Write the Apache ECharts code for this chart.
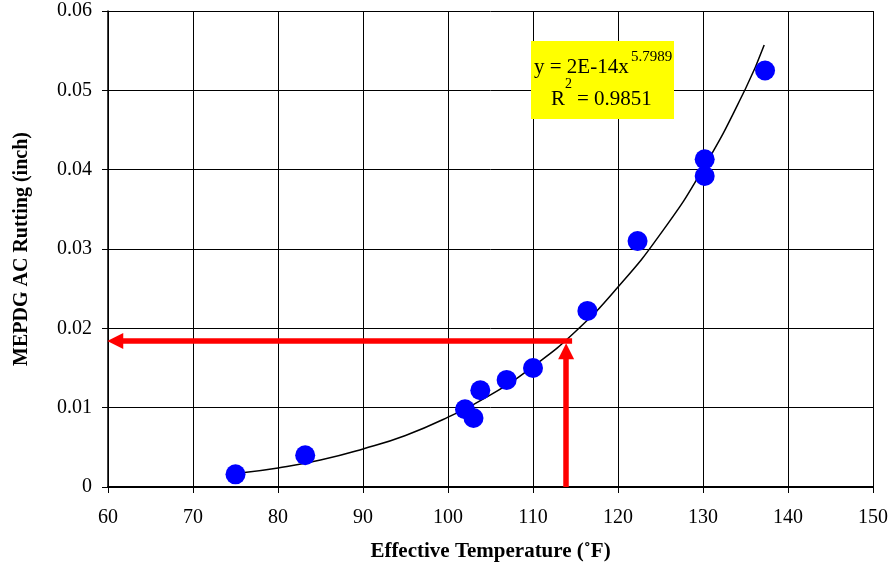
<!DOCTYPE html>
<html>
<head>
<meta charset="utf-8">
<script src="https://cdn.jsdelivr.net/npm/echarts@6/dist/echarts.min.js"></script>
<style>
html,body{margin:0;padding:0;background:#fff;}
#chart{width:891px;height:568px;}
</style>
</head>
<body>
<div id="chart"></div>
<script>
// Measured data points (Effective Temperature, MEPDG AC Rutting)
var tempF = [75.0, 83.2, 102.0, 103.0, 103.8, 106.9, 110.0, 116.4, 122.3, 130.2, 130.2, 137.3];
var rutting = [0.0016, 0.0040, 0.0098, 0.0087, 0.0122, 0.0135, 0.0150, 0.0222, 0.0310, 0.0392, 0.0413, 0.0525];

// Power trendline
var trendX = [75.8, 80, 85, 90, 95, 100, 105, 110, 115, 120, 125, 130, 135, 137.2];
var trendY = [0.0018, 0.0024, 0.0034, 0.0048, 0.0065, 0.0088, 0.0116, 0.0152, 0.0196, 0.0252, 0.0319, 0.0401, 0.0502, 0.0557];

// Red arrows: read-off of ~114 F -> ~0.0184 in
var hArrowY = 0.0184;      // horizontal arrow level
var hArrowFrom = 114.6;    // horizontal arrow tail (temperature)
var hArrowTo = 60.85;      // horizontal arrow head centre (temperature)
var vArrowX = 113.9;       // vertical arrow temperature
var vArrowTo = 0.0171;     // vertical arrow head centre (rutting)

var xTicks = [60, 70, 80, 90, 100, 110, 120, 130, 140, 150];
var yTicks = [0, 0.01, 0.02, 0.03, 0.04, 0.05, 0.06];

var eqLine1 = 'y = 2E-14x';
var eqSup1 = '5.7989';
var eqLine2a = 'R';
var eqSup2 = '2';
var eqLine2b = '= 0.9851';

var chart = echarts.init(document.getElementById('chart'), null, {renderer: 'canvas'});
var serif = '"Liberation Serif", "Times New Roman", serif';

function txt(t, x, y, size) {
  return {
    type: 'text', x: x, y: y, z: 11,
    style: {text: t, fontFamily: serif, fontSize: size, fill: '#000', verticalAlign: 'top', align: 'left'}
  };
}

var option = {
  backgroundColor: '#ffffff',
  animation: false,
  grid: {left: 108, right: 18, top: 11, bottom: 81, containLabel: false},
  xAxis: {
    type: 'value',
    min: xTicks[0], max: xTicks[xTicks.length - 1], interval: 10,
    name: 'Effective Temperature (\u02DAF)',
    nameLocation: 'middle', nameGap: 54,
    nameTextStyle: {fontFamily: serif, fontWeight: 'bold', fontSize: 21, color: '#000'},
    axisLine: {show: true, onZero: false, lineStyle: {color: '#000', width: 2}},
    axisTick: {show: true, inside: false, length: 6, lineStyle: {color: '#000', width: 1}},
    axisLabel: {fontFamily: serif, fontSize: 20, color: '#000', margin: 21},
    splitLine: {show: true, lineStyle: {color: '#000', width: 1}}
  },
  yAxis: {
    type: 'value',
    min: yTicks[0], max: yTicks[yTicks.length - 1], interval: 0.01,
    name: 'MEPDG AC Rutting (inch)',
    nameLocation: 'middle', nameGap: 76, nameRotate: 90,
    nameTextStyle: {fontFamily: serif, fontWeight: 'bold', fontSize: 20, color: '#000'},
    axisLine: {show: true, lineStyle: {color: '#000', width: 1.5}},
    axisTick: {show: true, inside: false, length: 6, lineStyle: {color: '#000', width: 1}},
    axisLabel: {fontFamily: serif, fontSize: 20, color: '#000', margin: 16, padding: [3, 0, 0, 0],
      formatter: function (v) { return v === 0 ? '0' : String(+v.toFixed(2)); }},
    splitLine: {show: true, lineStyle: {color: '#000', width: 1}}
  },
  series: [
    {
      type: 'line',
      name: 'trend',
      data: trendX.map(function (x, i) { return [x, trendY[i]]; }),
      smooth: true,
      showSymbol: false,
      symbol: 'none',
      lineStyle: {color: '#000', width: 1.5},
      z: 3
    },
    {
      type: 'line',
      name: 'arrows',
      data: [],
      symbol: 'none',
      z: 4,
      markLine: {
        silent: true,
        symbol: ['none', 'triangle'],
        symbolSize: [16, 16],
        label: {show: false},
        lineStyle: {color: '#ff0000', width: 5.5, type: 'solid', opacity: 1},
        data: [
          [{coord: [hArrowFrom, hArrowY]}, {coord: [hArrowTo, hArrowY]}],
          [{coord: [vArrowX, yTicks[0]]}, {coord: [vArrowX, vArrowTo]}]
        ]
      }
    },
    {
      type: 'scatter',
      name: 'data',
      data: tempF.map(function (x, i) { return [x, rutting[i]]; }),
      symbol: 'circle',
      symbolSize: 20,
      itemStyle: {color: '#0000ff', opacity: 1},
      z: 5
    }
  ],
  graphic: [
    {
      type: 'rect',
      x: 531, y: 41,
      shape: {width: 143, height: 78},
      style: {fill: '#ffff00'},
      z: 10
    },
    txt(eqLine1, 534, 57, 21),
    txt(eqSup1, 631, 50, 15),
    txt(eqLine2a, 551, 89, 21),
    txt(eqSup2, 565, 77, 14),
    txt(eqLine2b, 577, 89, 21)
  ]
};
chart.setOption(option);
</script>
</body>
</html>
